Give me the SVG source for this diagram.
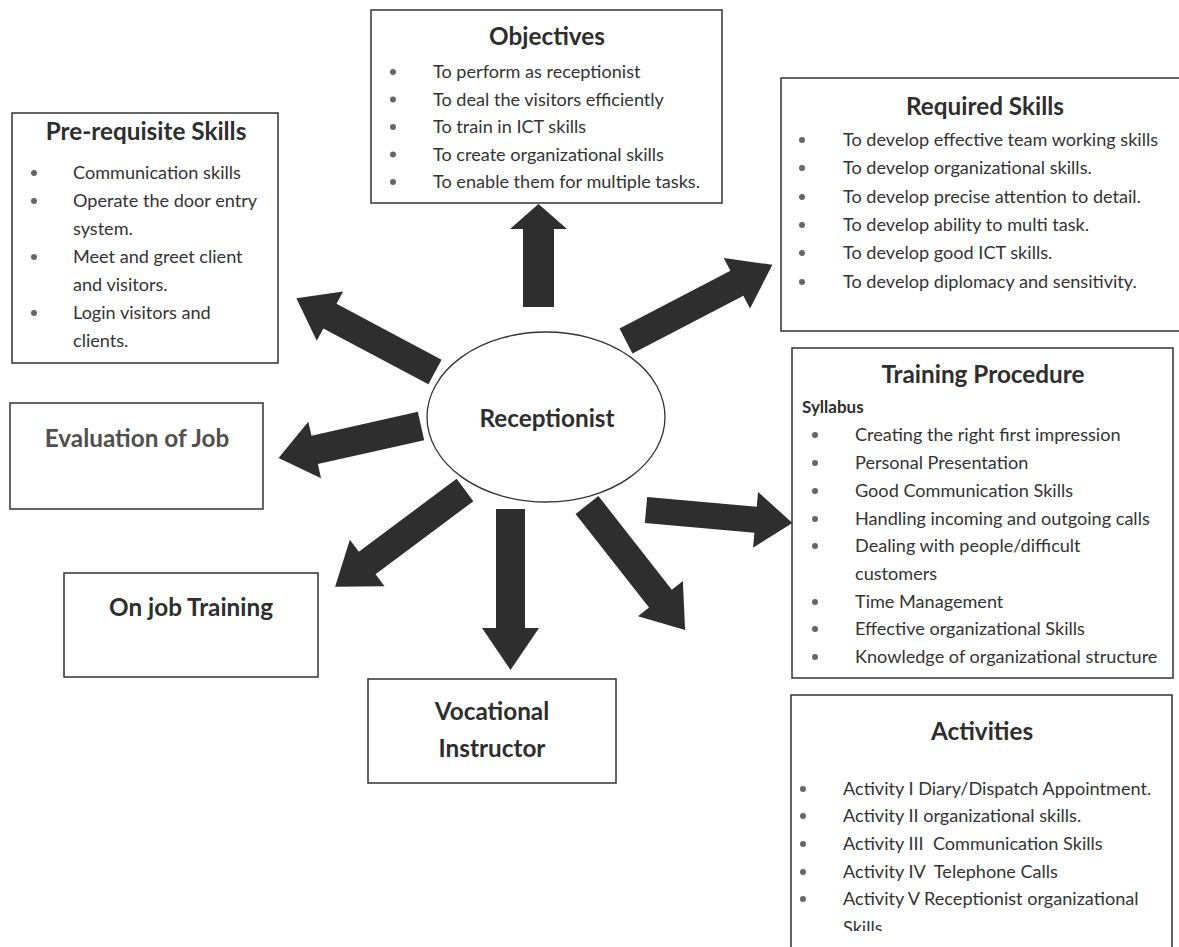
<svg xmlns="http://www.w3.org/2000/svg" width="1179" height="947" viewBox="0 0 1179 947">
<style>
.box{fill:#fff;stroke:#333;stroke-width:1.5}
.t{font-family:Lato,"Liberation Sans",sans-serif;font-weight:bold;font-size:24.3px;fill:#2e2e2e;text-anchor:middle}
.b{font-family:Lato,"Liberation Sans",sans-serif;font-size:18.1px;fill:#333}
.bul{fill:#666}
.arr{fill:#2e2e2e}
</style>
<defs>
<clipPath id="actclip"><rect x="780" y="690" width="399" height="241"/></clipPath>
</defs>
<rect width="1179" height="947" fill="#fff"/>

<g id="connectors">
<path class="arr" transform="translate(538.5,307) rotate(-90)" d="M0,-15.5 H78 V-28.5 L103,0 L78,28.5 V15.5 H0Z"/>
<path class="arr" transform="translate(626,341) rotate(-27.5)" d="M0,-14 H125 V-28.5 L165,0 L125,28.5 V14 H0Z"/>
<path class="arr" transform="translate(435,372) rotate(-152)" d="M0,-14 H119 V-28 L157,0 L119,28 V14 H0Z"/>
<path class="arr" transform="translate(421,426) rotate(167.3)" d="M0,-14.5 H109 V-29 L146,0 L109,29 V14.5 H0Z"/>
<path class="arr" transform="translate(465,490) rotate(143.3)" d="M0,-14 H122 V-29 L162,0 L122,29 V14 H0Z"/>
<path class="arr" transform="translate(510.5,509) rotate(90)" d="M0,-14.5 H119 V-28.5 L161,0 L119,28.5 V14.5 H0Z"/>
<path class="arr" transform="translate(587,505) rotate(51.9)" d="M0,-14.5 H119 V-28.5 L159,0 L119,28.5 V14.5 H0Z"/>
<path class="arr" transform="translate(646,510) rotate(5.1)" d="M0,-13 H110 V-28 L147,0 L110,28 V13 H0Z"/>
</g>

<g id="receptionist">
<ellipse cx="546" cy="417" rx="119" ry="85" fill="#fff" stroke="#333" stroke-width="1.3"/>
<text class="t" x="547" y="427">Receptionist</text>
</g>

<g id="objectives">
<rect class="box" x="371" y="10" width="351" height="193"/>
<text class="t" x="547" y="45">Objectives</text>
<circle class="bul" cx="393" cy="72" r="3"/>
<circle class="bul" cx="393" cy="99.5" r="3"/>
<circle class="bul" cx="393" cy="127" r="3"/>
<circle class="bul" cx="393" cy="154.5" r="3"/>
<circle class="bul" cx="393" cy="182" r="3"/>
<text class="b" x="433" y="78">To perform as receptionist</text>
<text class="b" x="433" y="105.5">To deal the visitors efficiently</text>
<text class="b" x="433" y="133">To train in ICT skills</text>
<text class="b" x="433" y="160.5">To create organizational skills</text>
<text class="b" x="433" y="188">To enable them for multiple tasks.</text>
</g>

<g id="required-skills">
<rect class="box" x="781" y="78" width="410" height="253"/>
<text class="t" x="985" y="115">Required Skills</text>
<circle class="bul" cx="802" cy="140" r="3"/>
<circle class="bul" cx="802" cy="168" r="3"/>
<circle class="bul" cx="802" cy="197" r="3"/>
<circle class="bul" cx="802" cy="225" r="3"/>
<circle class="bul" cx="802" cy="253" r="3"/>
<circle class="bul" cx="802" cy="282" r="3"/>
<text class="b" x="843" y="146">To develop effective team working skills</text>
<text class="b" x="843" y="174">To develop organizational skills.</text>
<text class="b" x="843" y="203">To develop precise attention to detail.</text>
<text class="b" x="843" y="231">To develop ability to multi task.</text>
<text class="b" x="843" y="259">To develop good ICT skills.</text>
<text class="b" x="843" y="288">To develop diplomacy and sensitivity.</text>
</g>

<g id="prerequisite-skills">
<rect class="box" x="12" y="113" width="266" height="250"/>
<text class="t" x="146" y="140">Pre-requisite Skills</text>
<circle class="bul" cx="34" cy="173" r="3"/>
<circle class="bul" cx="34" cy="201" r="3"/>
<circle class="bul" cx="34" cy="257" r="3"/>
<circle class="bul" cx="34" cy="313" r="3"/>
<text class="b" x="73" y="179">Communication skills</text>
<text class="b" x="73" y="207">Operate the door entry</text>
<text class="b" x="73" y="235">system.</text>
<text class="b" x="73" y="263">Meet and greet client</text>
<text class="b" x="73" y="291">and visitors.</text>
<text class="b" x="73" y="319">Login visitors and</text>
<text class="b" x="73" y="347">clients.</text>
</g>

<g id="evaluation-of-job">
<rect class="box" x="10" y="403" width="253" height="106"/>
<text class="t" x="137" y="447" style="fill:#505050">Evaluation of Job</text>
</g>

<g id="on-job-training">
<rect class="box" x="64" y="573" width="254" height="104"/>
<text class="t" x="191" y="616">On job Training</text>
</g>

<g id="vocational-instructor">
<rect class="box" x="368" y="679" width="248" height="104"/>
<text class="t" x="492" y="720">Vocational</text>
<text class="t" x="492" y="757">Instructor</text>
</g>

<g id="training-procedure">
<rect class="box" x="792" y="348" width="381" height="330"/>
<text class="t" x="983" y="383">Training Procedure</text>
<text x="802" y="413" style="font-family:Lato,'Liberation Sans',sans-serif;font-weight:bold;font-size:17px;fill:#2e2e2e">Syllabus</text>
<circle class="bul" cx="815" cy="435" r="3"/>
<circle class="bul" cx="815" cy="463" r="3"/>
<circle class="bul" cx="815" cy="491" r="3"/>
<circle class="bul" cx="815" cy="519" r="3"/>
<circle class="bul" cx="815" cy="546" r="3"/>
<circle class="bul" cx="815" cy="602" r="3"/>
<circle class="bul" cx="815" cy="629" r="3"/>
<circle class="bul" cx="815" cy="657" r="3"/>
<text class="b" x="855" y="441">Creating the right first impression</text>
<text class="b" x="855" y="469">Personal Presentation</text>
<text class="b" x="855" y="497">Good Communication Skills</text>
<text class="b" x="855" y="525">Handling incoming and outgoing calls</text>
<text class="b" x="855" y="552">Dealing with people/difficult</text>
<text class="b" x="855" y="580">customers</text>
<text class="b" x="855" y="608">Time Management</text>
<text class="b" x="855" y="635">Effective organizational Skills</text>
<text class="b" x="855" y="663">Knowledge of organizational structure</text>
</g>

<g id="activities">
<path d="M791,950 V695 H1172 V950" fill="#fff" stroke="#333" stroke-width="1.5"/>
<text class="t" x="982" y="740">Activities</text>
<circle class="bul" cx="803" cy="789" r="3"/>
<circle class="bul" cx="803" cy="816" r="3"/>
<circle class="bul" cx="803" cy="844" r="3"/>
<circle class="bul" cx="803" cy="872" r="3"/>
<circle class="bul" cx="803" cy="899" r="3"/>
<g clip-path="url(#actclip)">
<text class="b" x="843" y="795">Activity I Diary/Dispatch Appointment.</text>
<text class="b" x="843" y="822">Activity II organizational skills.</text>
<text class="b" x="843" y="850" xml:space="preserve">Activity III  Communication Skills</text>
<text class="b" x="843" y="878" xml:space="preserve">Activity IV  Telephone Calls</text>
<text class="b" x="843" y="905">Activity V Receptionist organizational</text>
<text class="b" x="843" y="934">Skills.</text>
</g>
</g>
</svg>
